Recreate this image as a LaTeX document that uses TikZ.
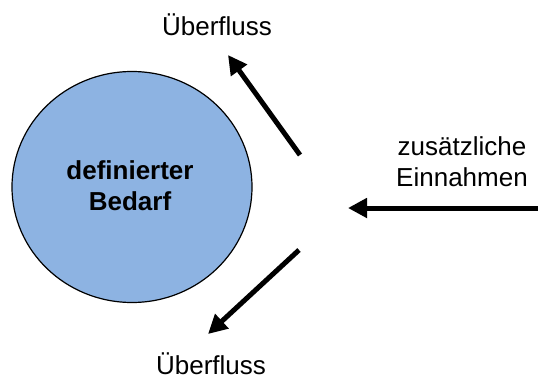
\documentclass[tikz,border=0pt]{standalone}
\usepackage{fontspec}
\setmainfont{Liberation Sans}
\usepackage{tikz}
\usetikzlibrary{shapes.geometric}
\usetikzlibrary{arrows.meta}

\definecolor{bedarfblau}{RGB}{141,179,226}

\begin{document}
\begin{tikzpicture}[x=1pt,y=-1pt,
        pfeil/.style={line width=5pt,-{Triangle[length=19pt,width=19pt]}},
        beschriftung/.style={font=\fontsize{26}{31}\selectfont,align=center,inner sep=0pt}]
        \useasboundingbox (0,0) rectangle (538,380);

        \node[ellipse,draw,line width=1.2pt,fill=bedarfblau,minimum width=240pt,minimum height=231pt,inner sep=0pt] (bedarf) at (132,187) {};
        \node[font=\bfseries\fontsize{26}{31}\selectfont,align=center,inner sep=0pt] (bedarftext) at (130,186) {definierter\\Bedarf};

        \node[beschriftung] (oben) at (217,25) {Überfluss};
        \node[beschriftung] (unten) at (211,364) {Überfluss};
        \node[beschriftung] (einnahmen) at (462,162) {zusätzliche\\Einnahmen};

        \coordinate (obenstart) at (300,155);
        \coordinate (obenziel) at (228,55);
        \coordinate (untenstart) at (299,250);
        \coordinate (untenziel) at (208,334);
        \coordinate (rechtsstart) at (538,208);
        \coordinate (rechtsziel) at (348,208);

        \draw[pfeil] (obenstart) -- (obenziel);
        \draw[pfeil] (untenstart) -- (untenziel);
        \draw[pfeil] (rechtsstart) -- (rechtsziel);
\end{tikzpicture}
\end{document}
